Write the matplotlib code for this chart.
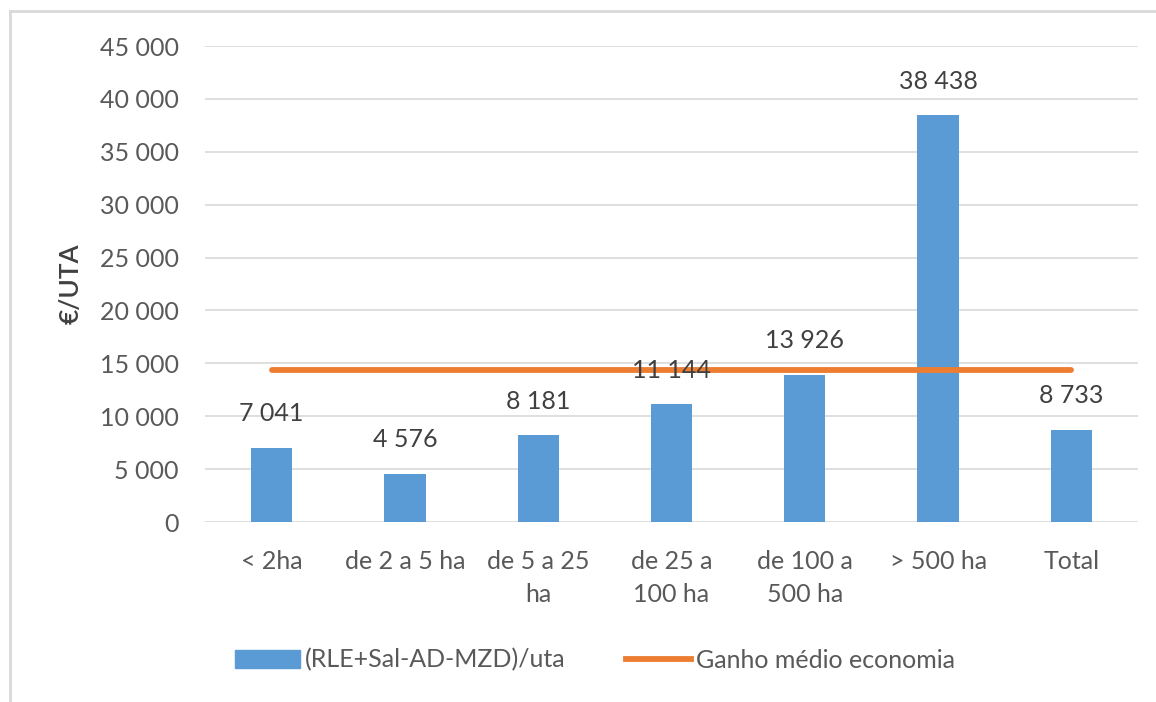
import matplotlib
matplotlib.use("Agg")
import matplotlib.pyplot as plt
from matplotlib.lines import Line2D
import numpy as np

categories = ["< 2ha", "de 2 a 5 ha", "de 5 a 25\nha", "de 25 a\n100 ha", "de 100 a\n500 ha", "> 500 ha", "Total"]
bar_values = [7041, 4576, 8181, 11144, 13926, 38438, 8733]
line_values = [14400] * 7
bar_label = "(RLE+Sal-AD-MZD)/uta"
line_label = "Ganho médio economia"
yticks = [0, 5000, 10000, 15000, 20000, 25000, 30000, 35000, 40000, 45000]

def fmt(v):
    return f"{v:,}".replace(",", " ")

plt.rcParams['font.family'] = ['Lato', 'DejaVu Sans']
TXT = "#595959"
DARK = "#404040"
BLUE = "#5B9BD5"
ORANGE = "#ED7D31"

fig = plt.figure(figsize=(11.56, 7.02), dpi=100)
W, H = 1156, 702
ax = fig.add_axes([205 / W, 1 - 522 / H, (1138 - 205) / W, (522 - 46) / H])

x = np.arange(len(categories))
ax.bar(x, bar_values, width=0.31, color=BLUE, zorder=3, label=bar_label)
ax.plot(x, line_values, color=ORANGE, lw=4.2, solid_capstyle='round', zorder=4, label=line_label)

for xi, v in zip(x, bar_values):
    ax.text(xi, v + 2100, fmt(v), ha='center', va='bottom', fontsize=18, color=DARK, zorder=5)

ax.set_xlim(-0.5, len(categories) - 0.5)
ax.set_ylim(0, 45000)
ax.set_yticks(yticks)
ax.set_yticklabels([fmt(t) for t in yticks], fontsize=18, color=TXT)
ax.set_xticks(x)
ax.set_xticklabels(categories, fontsize=18, color=TXT, linespacing=1.55, va='top')
ax.tick_params(axis='both', length=0)
ax.tick_params(axis='y', pad=19)
ax.tick_params(axis='x', pad=20)
ax.grid(axis='y', color='#D9D9D9', lw=1.2, zorder=0)
for s in ax.spines.values():
    s.set_visible(False)
ax.set_ylabel("€/UTA", fontsize=19, color=DARK, fontweight='semibold', va='center')
ax.yaxis.set_label_coords((71 - 205) / 933, 0.5)

handles = [plt.Rectangle((0, 0), 1, 1, color=BLUE),
           Line2D([0], [0], color=ORANGE, lw=4.2)]
fig.legend(handles, [bar_label, line_label], loc='center', bbox_to_anchor=(595 / W, 1 - 660 / H),
           ncol=2, frameon=False, fontsize=18, labelcolor=TXT, handlelength=2.6,
           handleheight=0.75, columnspacing=2.4, handletextpad=0.2)

# figure border (left and top)
fig.add_artist(Line2D([9.5 / W, 9.5 / W], [0, 1 - 11 / H], transform=fig.transFigure, color='#D9D9D9', lw=2))
fig.add_artist(Line2D([9.5 / W, 1], [1 - 11 / H, 1 - 11 / H], transform=fig.transFigure, color='#D9D9D9', lw=2))

fig.savefig("out.png", dpi=100, facecolor='white')
